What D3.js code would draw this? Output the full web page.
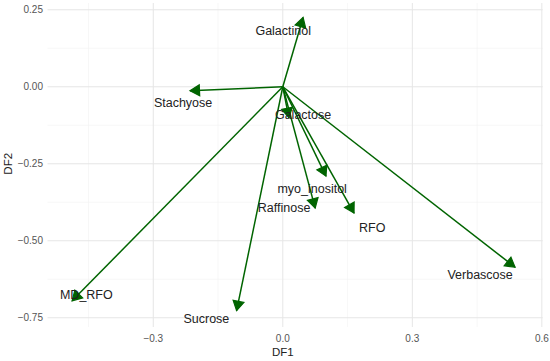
<!DOCTYPE html>
<html>
<head>
<meta charset="utf-8">
<script src="https://cdn.jsdelivr.net/npm/d3@7"></script>
<style>
  body { margin: 0; background: #fff; }
  text { font-family: "Liberation Sans", Arial, sans-serif; }
</style>
</head>
<body>
<div id="chart"></div>
<script>
// variable loadings (arrow tips)
const variables = ["Galactinol", "Stachyose", "Galactose", "myo_inositol", "Raffinose", "RFO", "Verbascose", "MD_RFO", "Sucrose"];
const df1 = [0.047, -0.215, 0.014, 0.100, 0.075, 0.165, 0.538, -0.488, -0.107];
const df2 = [0.225, -0.013, -0.100, -0.290, -0.394, -0.410, -0.586, -0.695, -0.727];
// label positions
const labelX = [0.001, -0.231, 0.047, 0.068, 0.003, 0.207, 0.457, -0.455, -0.177];
const labelY = [0.184, -0.050, -0.089, -0.329, -0.391, -0.456, -0.608, -0.676, -0.754];

const xTicks = [-0.3, 0, 0.3, 0.6];
const xMinor = [-0.45, -0.15, 0.15, 0.45];
const yTicks = [0.25, 0, -0.25, -0.5, -0.75];
const yMinor = [0.125, -0.125, -0.375, -0.625];

const width = 550, height = 361;
const svg = d3.select("#chart").append("svg")
  .attr("width", width).attr("height", height);

const x = d3.scaleLinear().domain([-0.545, 0.602]).range([47.5, 542.7]);
const y = d3.scaleLinear().domain([-0.78, 0.272]).range([327, 3]);

const fmtY = d => d3.format(".2f")(d).replace("-", "\u2212");
const fmtX = d => d3.format(".1f")(d).replace("-", "\u2212");

// grid
const grid = svg.append("g");
grid.selectAll(".xminor").data(xMinor).join("line")
  .attr("x1", d => x(d)).attr("x2", d => x(d))
  .attr("y1", y.range()[1]).attr("y2", y.range()[0])
  .attr("stroke", "#f2f2f2").attr("stroke-width", 0.6);
grid.selectAll(".yminor").data(yMinor).join("line")
  .attr("y1", d => y(d)).attr("y2", d => y(d))
  .attr("x1", x.range()[0]).attr("x2", x.range()[1])
  .attr("stroke", "#f2f2f2").attr("stroke-width", 0.6);
grid.selectAll(".xmajor").data(xTicks).join("line")
  .attr("x1", d => x(d)).attr("x2", d => x(d))
  .attr("y1", y.range()[1]).attr("y2", y.range()[0])
  .attr("stroke", "#e6e6e6").attr("stroke-width", 1);
grid.selectAll(".ymajor").data(yTicks).join("line")
  .attr("y1", d => y(d)).attr("y2", d => y(d))
  .attr("x1", x.range()[0]).attr("x2", x.range()[1])
  .attr("stroke", "#e6e6e6").attr("stroke-width", 1);

// tick labels
svg.append("g").selectAll("text").data(xTicks).join("text")
  .attr("x", d => x(d)).attr("y", 342)
  .attr("text-anchor", "middle")
  .attr("font-size", 10).attr("fill", "#555")
  .text(fmtX);
svg.append("g").selectAll("text").data(yTicks).join("text")
  .attr("x", 43).attr("y", d => y(d) + 3.5)
  .attr("text-anchor", "end")
  .attr("font-size", 10).attr("fill", "#555")
  .text(fmtY);

// axis titles
svg.append("text").attr("x", x(0)).attr("y", 356)
  .attr("text-anchor", "middle").attr("font-size", 11.5).attr("fill", "#222")
  .text("DF1");
svg.append("text")
  .attr("transform", `translate(12,${y(-0.25)}) rotate(-90)`)
  .attr("text-anchor", "middle").attr("font-size", 11.5).attr("fill", "#222")
  .text("DF2");

// arrows
const data = variables.map((v, i) => ({ name: v, x: df1[i], y: df2[i], lx: labelX[i], ly: labelY[i] }));
const green = "#006400";
const headLen = 9.5, headHalf = Math.tan(Math.PI / 6) * 9.5;

const arrows = svg.append("g");
arrows.selectAll("line").data(data).join("line")
  .attr("x1", x(0)).attr("y1", y(0))
  .attr("x2", d => x(d.x)).attr("y2", d => y(d.y))
  .attr("stroke", green).attr("stroke-width", 1.5);
arrows.selectAll("path").data(data).join("path")
  .attr("fill", green).attr("stroke", green).attr("stroke-width", 1.2)
  .attr("stroke-linejoin", "miter")
  .attr("d", d => {
    const x0 = x(0), y0 = y(0), x1 = x(d.x), y1 = y(d.y);
    const len = Math.hypot(x1 - x0, y1 - y0);
    const ux = (x1 - x0) / len, uy = (y1 - y0) / len;
    const bx = x1 - ux * headLen, by = y1 - uy * headLen;
    return `M${x1},${y1}L${bx - uy * headHalf},${by + ux * headHalf}L${bx + uy * headHalf},${by - ux * headHalf}Z`;
  });

// labels
svg.append("g").selectAll("text").data(data).join("text")
  .attr("x", d => x(d.lx)).attr("y", d => y(d.ly) + 4.5)
  .attr("text-anchor", "middle")
  .attr("font-size", 12.5).attr("fill", "#222")
  .text(d => d.name);
</script>
</body>
</html>
